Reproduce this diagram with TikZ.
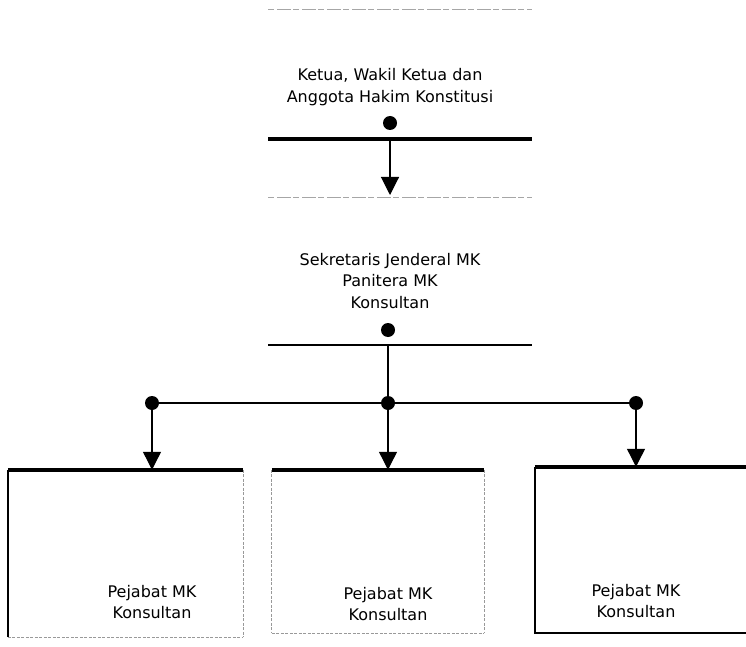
\documentclass[tikz,border=0pt]{standalone}
\usepackage{fontspec}
\setmainfont{DejaVu Sans}
\usetikzlibrary{arrows.meta}
\begin{document}
\begin{tikzpicture}[x=1pt,y=-1pt,
  lbl/.style={font=\fontsize{16}{21.5}\selectfont, align=center, inner sep=0pt},
  dotn/.style={circle, fill=black, minimum size=14pt, inner sep=0pt},
  conn/.style={line width=1.1pt, -{Triangle[length=18pt,width=18pt]}},
  plain/.style={line width=1.1pt},
  thickedge/.style={line width=3.5pt},
  faintedge/.style={line width=1pt, gray!70, dash pattern=on 6pt off 3pt on 14pt off 2pt},
  sideedge/.style={line width=0.8pt, gray!80, dash pattern=on 3pt off 1.5pt}
]
\useasboundingbox (0,0) rectangle (746,647);

% top box
\coordinate (b1tl) at (268,10);
\coordinate (b1tr) at (532,10);
\coordinate (b1bl) at (268,139);
\coordinate (b1br) at (532,139);
\draw[faintedge] (b1tl) -- (b1tr);
\draw[thickedge] (b1bl) -- (b1br);
\node[lbl] (t1) at (390,87) {Ketua, Wakil Ketua dan\\Anggota Hakim Konstitusi};
\node[dotn] (d1) at (390,123) {};
\coordinate (a1s) at (390,140);
\coordinate (a1e) at (390,195);
\draw[conn] (a1s) -- (a1e);

% second box
\coordinate (b2tl) at (268,197);
\coordinate (b2tr) at (532,197);
\coordinate (b2bl) at (268,345);
\coordinate (b2br) at (532,345);
\draw[faintedge] (b2tl) -- (b2tr);
\draw[line width=2.2pt] (b2bl) -- (b2br);
\node[lbl] (t2) at (390,281) {Sekretaris Jenderal MK\\Panitera MK\\Konsultan};
\node[dotn] (d2) at (388,330) {};
\coordinate (v2) at (388,345);

% distribution
\node[dotn] (dl) at (152,403) {};
\node[dotn] (dm) at (388,403) {};
\node[dotn] (dr) at (636,403) {};
\draw[plain] (v2) -- (dm);
\draw[plain] (dl) -- (dm) -- (dr);

% bottom boxes
\node[minimum width=235pt, minimum height=167pt, inner sep=0pt] (bl) at (125.5,553.5) {};
\node[minimum width=212pt, minimum height=163pt, inner sep=0pt] (bm) at (378,551.5) {};
\node[minimum width=215pt, minimum height=166pt, inner sep=0pt] (br) at (642.5,550) {};

\draw[conn] (dl) -- (dl |- bl.north);
\draw[conn] (dm) -- (dm |- bm.north);
\draw[conn] (dr) -- (dr |- br.north);

% left box
\draw[thickedge] (bl.north west) -- (bl.north east);
\draw[line width=1.8pt] (bl.north west) -- (bl.south west);
\draw[sideedge] (bl.north east) -- (bl.south east);
\draw[sideedge] (bl.south west) -- (bl.south east);
\node[lbl] (tl) at (152,602) {Pejabat MK\\Konsultan};

% middle box
\draw[thickedge] (bm.north west) -- (bm.north east);
\draw[sideedge] (bm.north west) -- (bm.south west);
\draw[sideedge] (bm.north east) -- (bm.south east);
\draw[sideedge] (bm.south west) -- (bm.south east);
\node[lbl] (tm) at (388,604) {Pejabat MK\\Konsultan};

% right box
\draw[thickedge] (br.north west) -- (br.north east);
\draw[line width=2pt] (br.north west) -- (br.south west) -- (br.south east);
\node[lbl] (tr) at (636,601) {Pejabat MK\\Konsultan};
\end{tikzpicture}
\end{document}
